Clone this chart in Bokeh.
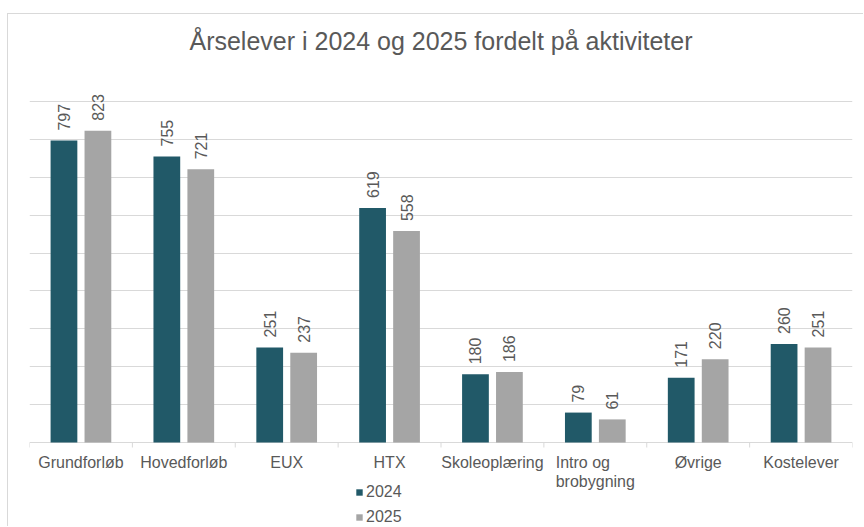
from math import pi

from bokeh.core.properties import value
from bokeh.embed import file_html
from bokeh.models import (ColumnDataSource, FactorRange, FixedTicker, Grid,
                          LabelSet, Legend, LegendItem, Range1d)
from bokeh.plotting import figure
from bokeh.resources import INLINE
from bokeh.transform import dodge

# ---- data ----
categories = ["Grundforløb", "Hovedforløb", "EUX", "HTX", "Skoleoplæring",
              "Intro og\nbrobygning", "Øvrige", "Kostelever"]
values_2024 = [797, 755, 251, 619, 180, 79, 171, 260]
values_2025 = [823, 721, 237, 558, 186, 61, 220, 251]
series_names = ["2024", "2025"]
grid_values = [0, 100, 200, 300, 400, 500, 600, 700, 800, 900]
title_text = "Årselever i 2024 og 2025 fordelt på aktiviteter"

# ---- style ----
FONT = "Liberation Sans"
TXT = "#595959"
C2024 = "#215968"
C2025 = "#a5a5a5"
GRID = "#d9d9d9"
TICK_LEN = 13.2  # separator tick length below the baseline, in value units

source = ColumnDataSource(dict(
    cat=categories,
    v2024=values_2024,
    v2025=values_2025,
    l2024=[str(v) for v in values_2024],
    l2025=[str(v) for v in values_2025],
))

p = figure(width=856, height=513,
           x_range=FactorRange(factors=categories, range_padding=0),
           y_range=Range1d(-224.3, 1021.4),
           output_backend="svg", toolbar_location=None,
           x_axis_location=None, y_axis_location=None,
           min_border_left=21, min_border_right=12,
           min_border_top=41, min_border_bottom=0)
p.styles = {"margin-left": "7px", "margin-top": "13px",
            "border-left": "1px solid #d9d9d9", "border-top": "1px solid #d9d9d9"}
p.outline_line_color = None
p.background_fill_color = "white"
p.border_fill_color = "white"
p.center = [r for r in p.center if not isinstance(r, Grid)]

p.title.text = title_text
p.title.align = "center"
p.title.text_font = FONT
p.title.text_font_size = "25px"
p.title.text_font_style = "normal"
p.title.text_color = TXT
p.title.standoff = 2

# gridlines (the 0 line doubles as the category axis line)
p.add_layout(Grid(dimension=1, ticker=FixedTicker(ticks=grid_values),
                  grid_line_color=GRID, grid_line_width=1))

# separator ticks between categories
p.segment(x0=dodge("cat", -0.5, range=p.x_range), y0=0,
          x1=dodge("cat", -0.5, range=p.x_range), y1=-TICK_LEN,
          source=source, line_color=GRID, line_width=1)
p.segment(x0=dodge("cat", 0.5, range=p.x_range), y0=0,
          x1=dodge("cat", 0.5, range=p.x_range), y1=-TICK_LEN,
          source=ColumnDataSource(dict(cat=categories[-1:])),
          line_color=GRID, line_width=1)

off = 0.165
bw = 0.26
r1 = p.vbar(x=dodge("cat", -off, range=p.x_range), top="v2024", width=bw,
            source=source, fill_color=C2024, line_color=None)
r2 = p.vbar(x=dodge("cat", off, range=p.x_range), top="v2025", width=bw,
            source=source, fill_color=C2025, line_color=None)

# value labels
for xoff, col in ((-off, "2024"), (off, "2025")):
    p.add_layout(LabelSet(
        x=dodge("cat", xoff, range=p.x_range), y="v" + col, text="l" + col,
        source=source, angle=pi / 2, text_align="left", text_baseline="middle",
        y_offset=10, text_font=value(FONT), text_font_size="16px",
        text_color=TXT))

# category labels
p.add_layout(LabelSet(
    x="cat", y=0, text="cat", source=source, y_offset=-11,
    text_align="center", text_baseline="top", text_line_height=1.15,
    text_font=value(FONT), text_font_size="16px", text_color=TXT))

legend = Legend(
    items=[LegendItem(label=series_names[0], renderers=[r1]),
           LegendItem(label=series_names[1], renderers=[r2])],
    location=(326, 0), orientation="vertical",
    glyph_width=8, glyph_height=8, label_height=20, spacing=5,
    label_standoff=3, padding=0, margin=0,
    border_line_color=None, background_fill_alpha=0,
    label_text_font=FONT, label_text_font_size="16px", label_text_color=TXT,
)
p.add_layout(legend)

open("out.html", "w").write(file_html(p, INLINE))
